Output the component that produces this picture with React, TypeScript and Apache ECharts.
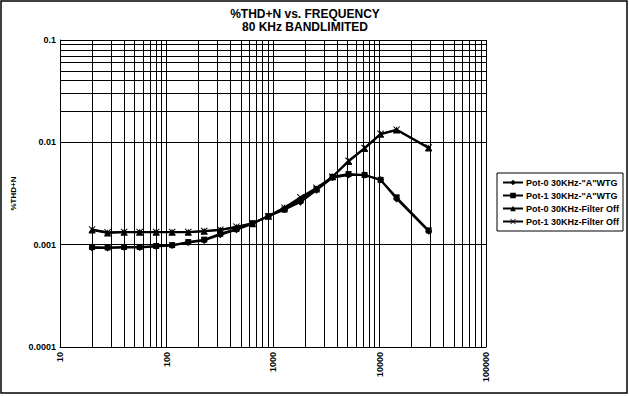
import React, { useEffect, useRef } from "react";
import * as echarts from "echarts";

const freqs = [20, 28, 40, 56, 80, 113, 160, 226, 320, 453, 640, 905, 1280, 1810, 2560, 3620, 5120, 7240, 10240, 14480, 28960];

const pot0AWtg = [0.00093, 0.00093, 0.00094, 0.00094, 0.00096, 0.00098, 0.00105, 0.0011, 0.00125, 0.0014, 0.0016, 0.0019, 0.0022, 0.0026, 0.0034, 0.0045, 0.0048, 0.0048, 0.0043, 0.0028, 0.00135];
const pot1AWtg = [0.00095, 0.00094, 0.00095, 0.00095, 0.00097, 0.00099, 0.00106, 0.00112, 0.00128, 0.00142, 0.00162, 0.0019, 0.0022, 0.0027, 0.0035, 0.0046, 0.0049, 0.0048, 0.0043, 0.0029, 0.00138];
const pot0FilterOff = [0.00139, 0.0013, 0.00132, 0.00132, 0.00132, 0.00132, 0.00132, 0.00135, 0.00139, 0.00148, 0.0016, 0.0019, 0.0023, 0.0028, 0.0035, 0.0046, 0.0065, 0.0087, 0.012, 0.0132, 0.0088];
const pot1FilterOff = [0.00141, 0.00132, 0.00133, 0.00133, 0.00133, 0.00133, 0.00133, 0.00136, 0.0014, 0.0015, 0.00162, 0.0019, 0.0023, 0.0029, 0.0036, 0.0046, 0.0066, 0.0088, 0.0121, 0.0133, 0.0089];

const seriesNames = ['Pot-0 30KHz-"A"WTG', 'Pot-1 30KHz-"A"WTG', "Pot-0 30KHz-Filter Off", "Pot-1 30KHz-Filter Off"];

const xTickLabels = ["10", "100", "1000", "10000", "100000"];
const yTickLabels = ["0.0001", "0.001", "0.01", "0.1"];

const xMinorGrid = [20, 30, 40, 50, 60, 70, 80, 90, 200, 300, 400, 500, 600, 700, 800, 900, 2000, 3000, 4000, 5000, 6000, 7000, 8000, 9000, 20000, 30000, 40000, 50000, 60000, 70000, 80000, 90000];
const yMinorGrid = [0.0002, 0.0003, 0.0004, 0.0005, 0.0006, 0.0007, 0.0008, 0.0009, 0.002, 0.003, 0.004, 0.005, 0.006, 0.007, 0.008, 0.009, 0.02, 0.03, 0.04, 0.05, 0.06, 0.07, 0.08, 0.09];

const titleLines = ["%THD+N vs. FREQUENCY", "80 KHz BANDLIMITED"];

const FONT = "'Liberation Sans', Arial, Helvetica, sans-serif";
const starPath = "path://M0,1L1,0L5,4L9,0L10,1L6,5L10,9L9,10L5,6L1,10L0,9L4,5Z";

export default function App() {
  const ref = useRef<HTMLDivElement>(null);
  useEffect(() => {
    if (!ref.current) return;
    const chart = echarts.init(ref.current, undefined, { renderer: "svg" });
    const mk = (vals: number[]) => freqs.map((f, i) => [f, vals[i]]);
    const symbols = ["diamond", "rect", "triangle", starPath];
    const sizes = [7, 6, 7, 7];
    const allVals = [pot0AWtg, pot1AWtg, pot0FilterOff, pot1FilterOff];
    const dataSeries = allVals.map((vals, i) => ({
      name: seriesNames[i],
      type: "line",
      data: mk(vals),
      symbol: symbols[i],
      symbolSize: sizes[i],
      showSymbol: true,
      itemStyle: { color: "#000" },
      lineStyle: { color: "#000", width: 2 },
      z: 5,
    }));
    chart.setOption({
      animation: false,
      backgroundColor: "#fff",
      textStyle: { fontFamily: FONT },
      grid: { left: 60, top: 40, width: 426, height: 307, show: false },
      xAxis: {
        type: "log",
        logBase: 10,
        min: 10,
        max: 100000,
        axisLine: { show: true, lineStyle: { color: "#000", width: 1 } },
        axisTick: { show: false },
        axisLabel: {
          rotate: 90,
          margin: 5,
          color: "#000",
          fontSize: 9,
          fontWeight: "bold",
          fontFamily: FONT,
          formatter: (v: number) => xTickLabels[Math.round(Math.log10(v)) - 1] ?? "",
        },
        splitLine: { show: true, lineStyle: { color: "#000", width: 1 } },
      },
      yAxis: {
        type: "log",
        logBase: 10,
        min: 0.0001,
        max: 0.1,
        name: "%THD+N",
        nameLocation: "middle",
        nameGap: 42,
        nameTextStyle: { color: "#000", fontSize: 8, fontWeight: "bold", fontFamily: FONT },
        axisLine: { show: true, lineStyle: { color: "#000", width: 1 } },
        axisTick: { show: false },
        axisLabel: {
          margin: 4,
          color: "#000",
          fontSize: 9,
          fontWeight: "bold",
          fontFamily: FONT,
          formatter: (v: number) => yTickLabels[Math.round(Math.log10(v)) + 4] ?? "",
        },
        splitLine: { show: true, lineStyle: { color: "#000", width: 1 } },
      },
      legend: {
        data: seriesNames,
        orient: "vertical",
        left: 497,
        top: 173,
        itemWidth: 20,
        itemHeight: 7,
        itemGap: 4,
        padding: [5, 4, 5, 5],
        borderColor: "#000",
        borderWidth: 1,
        textStyle: { color: "#000", fontSize: 9, fontWeight: "bold", fontFamily: FONT, padding: [0, 0, 0, -2] },
      },
      graphic: [
        {
          type: "rect",
          shape: { x: 1, y: 1, width: 626, height: 392 },
          style: { fill: "none", stroke: "#000", lineWidth: 1.5 },
          silent: true,
        },
        {
          type: "text",
          x: 305,
          y: 8,
          style: { text: titleLines[0], textAlign: "center", fill: "#000", font: `bold 12px ${FONT}` },
        },
        {
          type: "text",
          x: 305,
          y: 21,
          style: { text: titleLines[1], textAlign: "center", fill: "#000", font: `bold 12px ${FONT}` },
        },
      ],
      series: [
        {
          type: "line",
          name: "grid",
          data: [],
          showSymbol: false,
          silent: true,
          z: 1,
          markLine: {
            silent: true,
            symbol: "none",
            label: { show: false },
            lineStyle: { color: "#000", width: 1, type: "solid" },
            data: [
              ...xMinorGrid.map((v) => ({ xAxis: v })),
              ...yMinorGrid.map((v) => ({ yAxis: v })),
            ],
          },
        },
        ...dataSeries,
      ],
    });
    return () => chart.dispose();
  }, []);
  return <div ref={ref} style={{ position: "fixed", left: 0, top: 0, width: 629, height: 396 }} />;
}
